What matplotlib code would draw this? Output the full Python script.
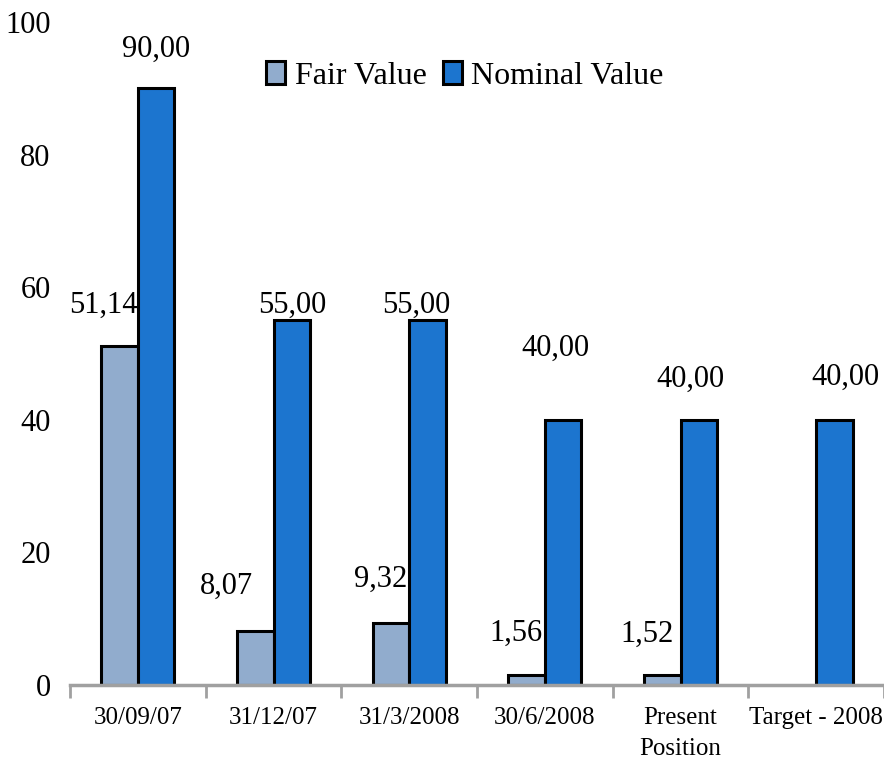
import numpy as np
import matplotlib
matplotlib.use('Agg')
from matplotlib import pyplot as plt

categories = ['30/09/07', '31/12/07', '31/3/2008', '30/6/2008', 'Present\nPosition', 'Target - 2008']
fair_value = [51.14, 8.07, 9.32, 1.56, 1.52, np.nan]
nominal_value = [90.00, 55.00, 55.00, 40.00, 40.00, 40.00]

# label placement (pixels: dx from bar centre, dy above bar top)
fair_lbl_off = [(-16, 41), (-29, 45), (-10, 44), (-11, 41), (-15, 41), (0, 0)]
nom_lbl_off = [(0, 39), (0, 15), (-11, 15), (-8, 71), (-8, 40), (11, 42)]

plt.rcParams['font.family'] = ['Liberation Serif', 'DejaVu Serif']

fig = plt.figure(figsize=(8.84, 7.62), dpi=100)
ax = fig.add_axes([70/884, 77/762, 814/884, 663/762])

x = np.arange(len(categories))
w = 0.27
fair_col = '#91ACCD'
nom_col = '#1C75CF'

b1 = ax.bar(x - w/2, fair_value, w, color=fair_col, edgecolor='black', linewidth=2.2, label='Fair Value')
b2 = ax.bar(x + w/2, nominal_value, w, color=nom_col, edgecolor='black', linewidth=2.2, label='Nominal Value')

def fmt(v):
    return ('%.2f' % v).replace('.', ',')

for i, v in enumerate(fair_value):
    if np.isnan(v):
        continue
    dx, dy = fair_lbl_off[i]
    ax.annotate(fmt(v), (x[i] - w/2, v), xytext=(dx*0.72, dy*0.72), textcoords='offset points',
                ha='center', va='center', fontsize=22)
for i, v in enumerate(nominal_value):
    dx, dy = nom_lbl_off[i]
    ax.annotate(fmt(v), (x[i] + w/2, v), xytext=(dx*0.72, dy*0.72), textcoords='offset points',
                ha='center', va='center', fontsize=22)

ax.set_xlim(-0.5, len(categories) - 0.5)
ax.set_ylim(0, 100)
ax.set_yticks([0, 20, 40, 60, 80, 100])
ax.tick_params(axis='y', length=0, labelsize=22, pad=14)

ax.set_xticks(np.arange(len(categories) + 1) - 0.5)
ax.set_xticklabels([])
ax.set_xticks(x, minor=True)
ax.set_xticklabels(categories, minor=True, fontsize=18, linespacing=1.5)
ax.tick_params(axis='x', which='major', length=9, width=2, color='#A0A0A0', direction='out')
ax.tick_params(axis='x', which='minor', length=0, pad=16)

for s in ['top', 'right', 'left']:
    ax.spines[s].set_visible(False)
ax.spines['bottom'].set_color('#A0A0A0')
ax.spines['bottom'].set_linewidth(2.5)

leg = ax.legend(loc='center', bbox_to_anchor=(465/884, 1 - 76/762), bbox_transform=fig.transFigure,
                ncol=2, frameon=False, fontsize=23, handlelength=0.6, handleheight=0.7,
                handletextpad=0.3, columnspacing=0.5)

fig.savefig('out.png', dpi=100)
